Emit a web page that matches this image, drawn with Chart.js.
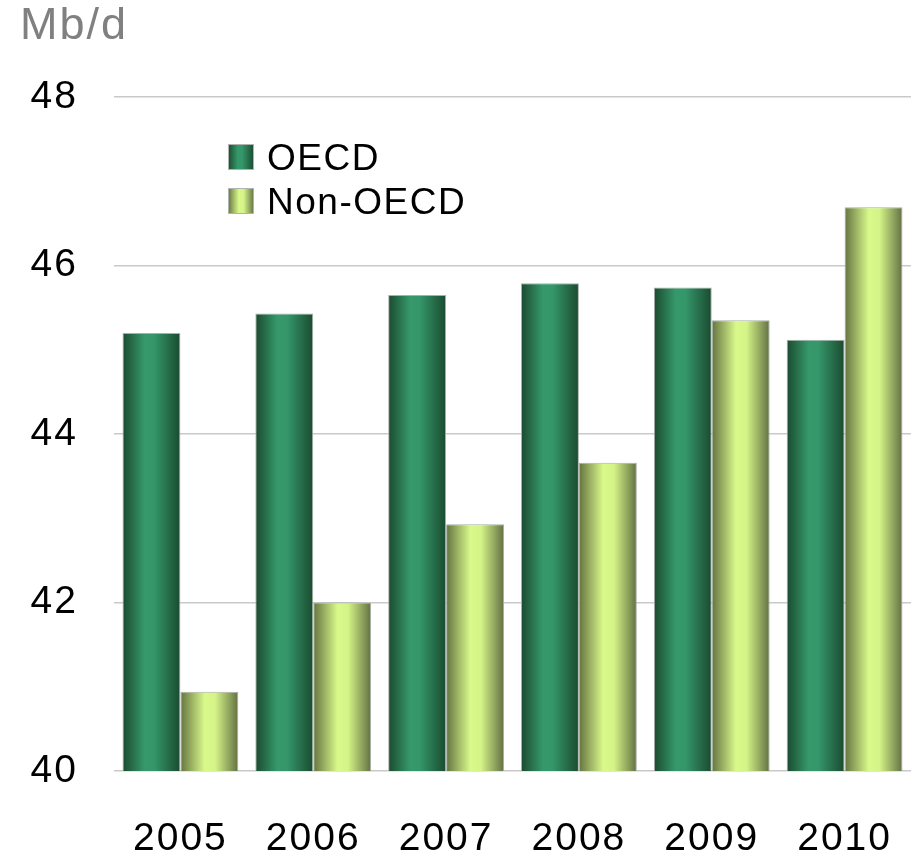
<!DOCTYPE html>
<html><head><meta charset="utf-8">
<script src="https://cdn.jsdelivr.net/npm/chart.js@4.4.1/dist/chart.umd.min.js"></script>
<style>html,body{margin:0;padding:0;background:#fff;overflow:hidden;}#wrap{width:911px;height:859px;position:relative;}</style>
</head><body><div id="wrap"><canvas id="c"></canvas></div>
<script>
const categories = ['2005', '2006', '2007', '2008', '2009', '2010'];
const oecdValues = [45.20, 45.43, 45.65, 45.79, 45.74, 45.12];
const nonOecdValues = [40.94, 42.00, 42.93, 43.66, 45.35, 46.69];
const seriesNames = ['OECD', 'Non-OECD'];
const yMin = 40, yMax = 48, yStep = 2;
const unitLabel = 'Mb/d';

const FONT = "'Liberation Sans', Arial, sans-serif";
const CAT_PCT = 0.872;
const stops = [
  [[0, '#1a4a2f'], [0.38, '#36996b'], [0.55, '#34966a'], [1, '#1a4a2f']],
  [[0, '#647340'], [0.42, '#d9f98b'], [0.6, '#d5f487'], [1, '#627043']]
];
function grad(ctx, x0, x1, s) {
  const g = ctx.createLinearGradient(x0, 0, x1, 0);
  s.forEach(p => g.addColorStop(p[0], p[1]));
  return g;
}
function barBg(c) {
  const chart = c.chart, xs = chart.scales && chart.scales.x;
  if (!xs || !chart.chartArea || c.dataIndex === undefined) return stops[c.datasetIndex][1][1];
  const center = xs.getPixelForValue(c.dataIndex);
  const cw = (xs.right - xs.left) / categories.length;
  const bw = cw * CAT_PCT / 2;
  const x0 = c.datasetIndex === 0 ? center - bw : center;
  return grad(chart.ctx, x0, x0 + bw, stops[c.datasetIndex]);
}

const spacingPlugin = {
  id: 'spacing',
  beforeDraw(chart) { chart.ctx.letterSpacing = '2px'; }
};

const legendPlugin = {
  id: 'innerLegend',
  afterDraw(chart) {
    const ctx = chart.ctx;
    const items = [{ y: 144 }, { y: 188 }];
    ctx.save();
    items.forEach((it, i) => {
      const x = 228, s = 26;
      ctx.fillStyle = grad(ctx, x, x + s, stops[i]);
      ctx.fillRect(x, it.y, s, s);
      ctx.strokeStyle = '#b0b4b0';
      ctx.lineWidth = 1;
      ctx.strokeRect(x + 0.5, it.y + 0.5, s - 1, s - 1);
      ctx.fillStyle = '#000';
      ctx.font = '37px ' + FONT;
      ctx.letterSpacing = '1.5px';
      ctx.textBaseline = 'alphabetic';
      ctx.textAlign = 'left';
      ctx.fillText(chart.data.datasets[i].label, 267, it.y + 26);
    });
    ctx.restore();
  }
};

new Chart(document.getElementById('c'), {
  type: 'bar',
  data: {
    labels: categories,
    datasets: [
      { label: seriesNames[0], data: oecdValues, backgroundColor: barBg,
        borderColor: '#a9b0aa', borderWidth: { top: 1, left: 1, right: 1, bottom: 0 } },
      { label: seriesNames[1], data: nonOecdValues, backgroundColor: barBg,
        borderColor: '#a9b0aa', borderWidth: { top: 1, left: 1, right: 1, bottom: 0 } }
    ]
  },
  options: {
    responsive: true,
    maintainAspectRatio: false,
    animation: false,
    devicePixelRatio: 1,
    layout: { padding: { left: 20, right: 0, top: 0, bottom: 0 } },
    datasets: { bar: { categoryPercentage: CAT_PCT, barPercentage: 1.0 } },
    plugins: {
      legend: { display: false },
      tooltip: { enabled: false },
      title: {
        display: true, text: unitLabel, align: 'start', color: '#808080',
        font: { family: FONT, size: 45, weight: 'normal', lineHeight: 1.2 },
        padding: { top: 0, bottom: 43 }
      }
    },
    scales: {
      x: {
        grid: { display: false, drawTicks: false },
        border: { display: false },
        ticks: { color: '#000', font: { family: FONT, size: 39, lineHeight: 1 }, padding: 49, maxRotation: 0 },
        afterFit(s) { s.height = 88; s.paddingLeft = 0; s.paddingRight = 0; }
      },
      y: {
        min: yMin, max: yMax,
        grid: { color: '#c9c9c9', lineWidth: 1.5, drawTicks: false },
        border: { display: false },
        ticks: { stepSize: yStep, color: '#000', font: { family: FONT, size: 39 }, padding: 36 },
        afterFit(s) { s.width = 94; }
      }
    }
  },
  plugins: [spacingPlugin, legendPlugin]
});
</script></body></html>
